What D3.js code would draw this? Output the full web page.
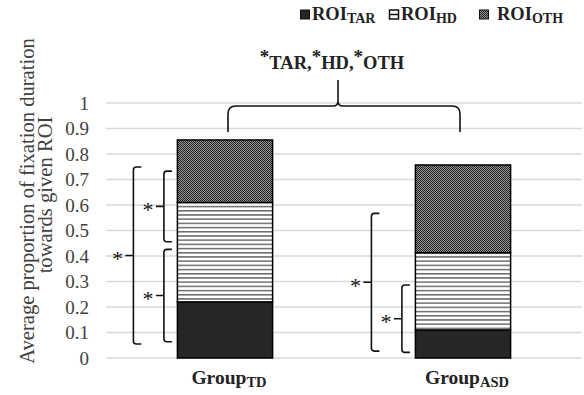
<!DOCTYPE html>
<html><head><meta charset="utf-8">
<script src="https://cdn.jsdelivr.net/npm/d3@7"></script>
<style>html,body{margin:0;padding:0;background:#fff}svg{display:block}</style>
</head><body>
<svg id="c" width="584" height="395"></svg>
<script>
// ---- data ----
const groups = ["TD", "ASD"];
const roiKeys = ["TAR", "HD", "OTH"];
const valTAR = [0.22, 0.11];
const valHD  = [0.39, 0.303];
const valOTH = [0.245, 0.344];
const yTicks = [0, 0.1, 0.2, 0.3, 0.4, 0.5, 0.6, 0.7, 0.8, 0.9, 1];
// significance brackets: group, level (0 inner / 1 outer), from value, to value
const brGroup = ["TD", "TD", "TD", "ASD", "ASD"];
const brLevel = [1, 0, 0, 1, 0];
const brFrom  = [0.055, 0.456, 0.064, 0.027, 0.022];
const brTo    = [0.749, 0.733, 0.426, 0.567, 0.286];
const topBrace = [0.886, 0.988, 1.09];

// ---- setup ----
const svg = d3.select("#c");
const FONT = "'Liberation Serif','Times New Roman',serif";
const x = d3.scaleBand().domain(groups).range([106, 582]).padding(0);
const y = d3.scaleLinear().domain([0, 1]).range([358, 103]);
const barW = x.bandwidth() * 0.4;
const barLeft = g => x(g) + (x.bandwidth() - barW) / 2;
const barCenter = g => x(g) + x.bandwidth() / 2;

// patterns
const defs = svg.append("defs");
const pHD = defs.append("pattern").attr("id", "pHD").attr("patternUnits", "userSpaceOnUse")
  .attr("width", 4).attr("height", 4.2);
pHD.append("rect").attr("width", 4).attr("height", 4.2).attr("fill", "#fff");
pHD.append("rect").attr("y", 0).attr("width", 4).attr("height", 1.5).attr("fill", "#6a6a6a");
const pOTH = defs.append("pattern").attr("id", "pOTH").attr("patternUnits", "userSpaceOnUse")
  .attr("width", 2).attr("height", 2);
pOTH.append("rect").attr("width", 2).attr("height", 2).attr("fill", "#1e1e1e");
pOTH.append("rect").attr("x", 1).attr("y", 0).attr("width", 1).attr("height", 1).attr("fill", "#9a9a9a");
pOTH.append("rect").attr("x", 0).attr("y", 1).attr("width", 1).attr("height", 1).attr("fill", "#9a9a9a");
const fills = {TAR: "#262626", HD: "url(#pHD)", OTH: "url(#pOTH)"};

// gridlines
svg.append("g").selectAll("line").data(yTicks).join("line")
  .attr("x1", 106).attr("x2", 582)
  .attr("y1", d => y(d)).attr("y2", d => y(d))
  .attr("stroke", "#d9d9d9").attr("stroke-width", 1.5);

// y axis (labels only)
const yAxis = d3.axisLeft(y).tickValues(yTicks).tickSize(0).tickPadding(0)
  .tickFormat(d => d3.format("")(+d.toFixed(1)));
const ya = svg.append("g").attr("transform", "translate(89,0)").call(yAxis);
ya.select(".domain").remove();
ya.selectAll("text").attr("font-family", FONT).attr("font-size", 19).attr("fill", "#404040").attr("dy", "0.34em");

// y title
svg.append("text").attr("font-family", FONT).attr("font-size", 20.6).attr("fill", "#404040")
  .attr("text-anchor", "middle").attr("transform", "translate(34,201) rotate(-90)")
  .text("Average proportion of fixation duration");
svg.append("text").attr("font-family", FONT).attr("font-size", 20.6).attr("fill", "#404040")
  .attr("text-anchor", "middle").attr("transform", "translate(52,195) rotate(-90)")
  .text("towards given ROI");

// stacked bars
const rows = groups.map((g, i) => ({group: g, TAR: valTAR[i], HD: valHD[i], OTH: valOTH[i]}));
const stack = d3.stack().keys(roiKeys)(rows);
svg.append("g").selectAll("g").data(stack).join("g")
  .attr("fill", d => fills[d.key])
  .selectAll("rect").data(d => d).join("rect")
  .attr("x", d => barLeft(d.data.group))
  .attr("width", barW)
  .attr("y", d => y(d[1]))
  .attr("height", d => y(d[0]) - y(d[1]))
  .attr("stroke", "#000").attr("stroke-width", 1.5);

// x labels
groups.forEach(g => {
  const t = svg.append("text").attr("x", barCenter(g) + 4).attr("y", 384)
    .attr("font-family", FONT).attr("font-weight", "bold").attr("font-size", 19.5)
    .attr("fill", "#222").attr("text-anchor", "middle");
  t.append("tspan").text("Group");
  t.append("tspan").attr("font-size", 14.5).attr("dy", 3).text(g);
});

// significance brackets
const br = svg.append("g").attr("fill", "none").attr("stroke", "#111").attr("stroke-width", 1.6);
brGroup.forEach((g, i) => {
  const bx = barLeft(g) + (brLevel[i] ? -44 : -13.5);
  const top = y(brTo[i]), bot = y(brFrom[i]), mid = (top + bot) / 2;
  const s = 8, r = 3;
  br.append("path").attr("d",
    `M${bx + s},${top} L${bx + r},${top} Q${bx},${top} ${bx},${top + r} L${bx},${bot - r} Q${bx},${bot} ${bx + r},${bot} L${bx + s},${bot}` +
    ` M${bx - 8},${mid} L${bx},${mid}`);
  svg.append("text").attr("x", bx - 16).attr("y", mid + 10.5)
    .attr("font-family", FONT).attr("font-size", 22).attr("fill", "#111")
    .attr("text-anchor", "middle").text("*");
});

// top brace
const xl = barCenter("TD") + 3, xr = barCenter("ASD") - 3, xm = (xl + xr) / 2 - 6;
const ye = y(topBrace[0]), yh = y(topBrace[1]), yp = y(topBrace[2]);
br.append("path").attr("d",
  `M${xl},${ye} L${xl},${yh + 8} Q${xl},${yh} ${xl + 8},${yh} L${xm - 5},${yh} Q${xm},${yh} ${xm},${yh - 5} L${xm},${yp}` +
  ` M${xm},${yh - 5} Q${xm},${yh} ${xm + 5},${yh} L${xr - 8},${yh} Q${xr},${yh} ${xr},${yh + 8} L${xr},${ye}`);

// annotation text
const ann = svg.append("text").attr("x", xm - 6).attr("y", 69).attr("text-anchor", "middle")
  .attr("font-family", FONT).attr("font-weight", "bold").attr("font-size", 18.5).attr("fill", "#222");
roiKeys.forEach((k, i) => {
  ann.append("tspan").attr("font-size", 19).attr("dy", -6).text("*");
  ann.append("tspan").attr("dy", 6).text(k + (i < roiKeys.length - 1 ? "," : ""));
});

// legend
const legX = [300, 389, 479];
roiKeys.forEach((k, i) => {
  const lx = legX[i];
  if (k === "HD") {
    svg.append("rect").attr("x", lx + 0.5).attr("y", 10).attr("width", 9).attr("height", 9)
      .attr("fill", "#fff").attr("stroke", "#111").attr("stroke-width", 1.5);
    svg.append("line").attr("x1", lx + 0.5).attr("x2", lx + 9.5).attr("y1", 14.5).attr("y2", 14.5)
      .attr("stroke", "#111").attr("stroke-width", 1.5);
  } else {
    svg.append("rect").attr("x", lx + 0.5).attr("y", 10).attr("width", 9).attr("height", 9)
      .attr("fill", fills[k]).attr("stroke", "#111").attr("stroke-width", 1);
  }
  const t = svg.append("text").attr("x", lx + (k === "OTH" ? 18 : 12)).attr("y", 19.5)
    .attr("font-family", FONT).attr("font-weight", "bold").attr("font-size", 18.5).attr("fill", "#222");
  t.append("tspan").text("ROI");
  t.append("tspan").attr("font-size", 14).attr("dy", 3).text(k);
});
</script>
</body></html>
